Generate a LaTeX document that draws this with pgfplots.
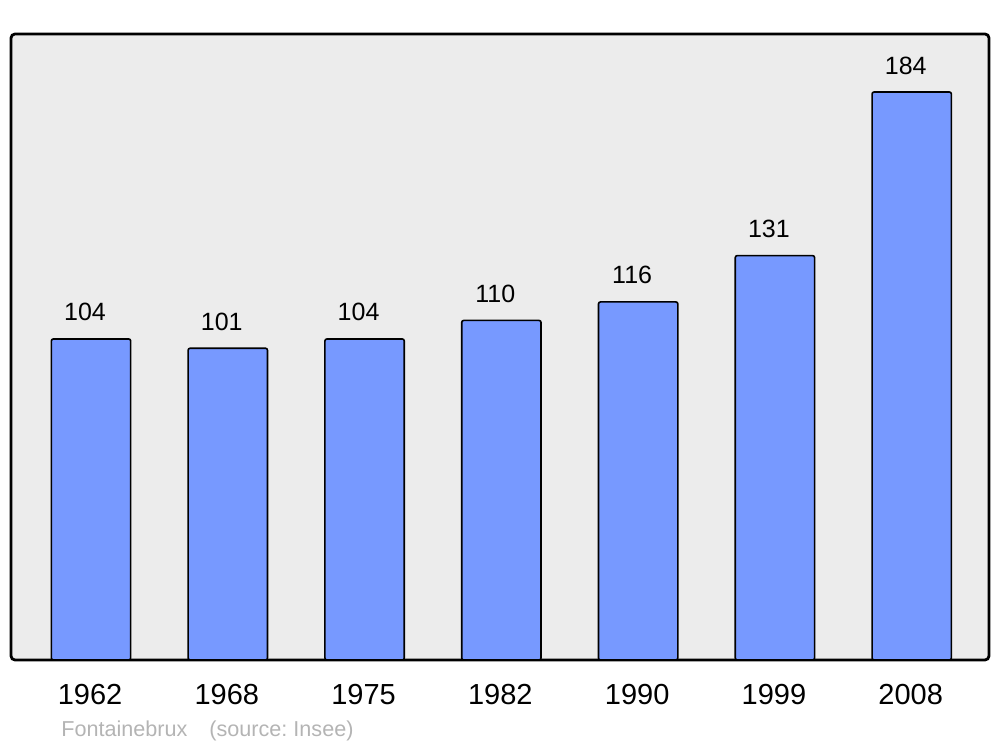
\documentclass[border=0pt]{standalone}
\usepackage{pgfplots}
\pgfplotsset{compat=1.18}
\usepackage{fontspec}
\setmainfont{Liberation Sans}
\definecolor{barblue}{HTML}{7799FF}
\definecolor{bggray}{HTML}{ECECEC}
\definecolor{foot}{HTML}{B4B4B4}
\frenchspacing
\begin{document}
\begin{tikzpicture}
\begin{axis}[
  at={(0,0)}, anchor=south west,
  scale only axis, width=489pt, height=313pt,
  xmin=-0.585, xmax=6.565, ymin=0, ymax=202.8,
  axis background/.style={fill=bggray, draw=black, line width=1.4pt, rounded corners=2pt},
  axis line style={draw=none},
  ytick=\empty,
  xtick={0,1,2,3,4,5,6},
  xticklabels={1962,1968,1975,1982,1990,1999,2008},
  major tick length=0pt,
  xticklabel style={anchor=base, yshift=-22.5pt, xshift=-0.5pt, font=\fontsize{14.5}{16}\selectfont},
  /pgf/number format/assume math mode=true,
  ybar, bar width=0.58,
  nodes near coords,
  every node near coord/.append style={anchor=base, yshift=9pt, xshift=-3pt, font=\fontsize{12.5}{14}\selectfont, /pgf/number format/assume math mode=true},
  clip=false,
]
\addplot[fill=barblue, draw=black, line width=0.8pt, rounded corners=1pt] coordinates {(0,104) (1,101) (2,104) (3,110) (4,116) (5,131) (6,184)};
\node[anchor=base west, inner sep=0pt, text=foot, font=\fontsize{10.8}{13}\selectfont] at (rel axis cs:0,0) [xshift=25pt, yshift=-38.5pt] {Fontainebrux\hspace{11pt}(source: Insee)};
\end{axis}
\pgfresetboundingbox
\path (-5.5pt,-43.5pt) rectangle (494.5pt,330pt);
\end{tikzpicture}
\end{document}
